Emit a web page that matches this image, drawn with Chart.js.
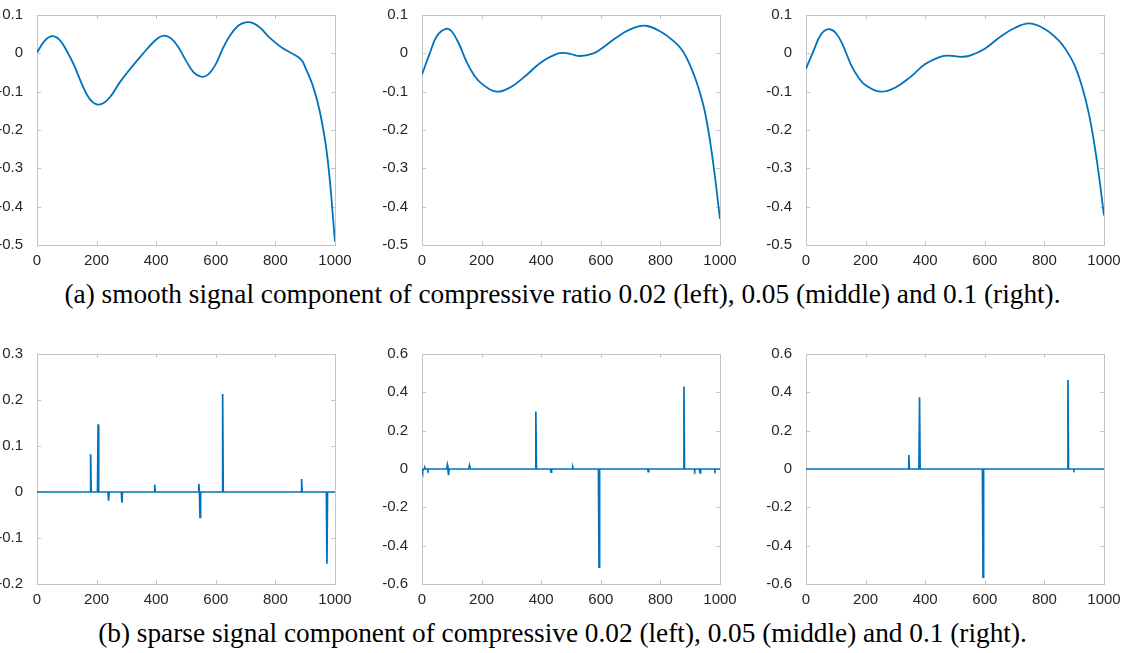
<!DOCTYPE html>
<html>
<head>
<meta charset="utf-8">
<script src="https://cdn.jsdelivr.net/npm/chart.js@4.4.0/dist/chart.umd.min.js"></script>
<style>
  body { margin: 0; background: #fff; width: 1125px; height: 653px; overflow: hidden; position: relative; }
  canvas { position: absolute; }
  .caption {
    position: absolute; left: 0; width: 1125px; text-align: center;
    font-family: "Liberation Serif", "Times New Roman", serif;
    font-size: 27.3px; line-height: 30px; color: #000; white-space: nowrap;
  }
</style>
</head>
<body>
<canvas id="smooth1" width="360" height="270" style="left:0px;top:0px"></canvas>
<canvas id="smooth2" width="365" height="270" style="left:380px;top:0px"></canvas>
<canvas id="smooth3" width="365" height="270" style="left:760px;top:0px"></canvas>
<div class="caption" style="top:279px">(a) smooth signal component of compressive ratio 0.02 (left), 0.05 (middle) and 0.1 (right).</div>
<canvas id="sparse1" width="360" height="270" style="left:0px;top:339px"></canvas>
<canvas id="sparse2" width="365" height="270" style="left:380px;top:339px"></canvas>
<canvas id="sparse3" width="365" height="270" style="left:760px;top:339px"></canvas>
<div class="caption" style="top:618px">(b) sparse signal component of compressive 0.02 (left), 0.05 (middle) and 0.1 (right).</div>

<script>
// Smooth components (sampled off the figure)
const smooth1X = [0, 25, 50, 75, 100, 125, 150, 175, 200, 225, 250, 275, 300, 350, 400, 425, 450, 475, 500, 525, 550, 575, 600, 625, 650, 675, 700, 725, 750, 775, 800, 825, 850, 875, 890, 900, 925, 950, 975, 1000];
const smooth1Y = [0.002, 0.032, 0.045, 0.036, 0.006, -0.032, -0.079, -0.117, -0.133, -0.129, -0.109, -0.079, -0.053, -0.006, 0.036, 0.046, 0.039, 0.015, -0.019, -0.049, -0.061, -0.055, -0.028, 0.015, 0.049, 0.072, 0.081, 0.079, 0.066, 0.045, 0.028, 0.013, 0.002, -0.009, -0.020, -0.036, -0.083, -0.155, -0.274, -0.491];

const smooth2X = [0, 25, 50, 80, 100, 125, 150, 175, 200, 250, 300, 350, 400, 450, 475, 500, 530, 575, 600, 650, 700, 750, 800, 850, 875, 900, 925, 950, 975, 1000];
const smooth2Y = [-0.055, -0.002, 0.045, 0.064, 0.057, 0.023, -0.023, -0.057, -0.079, -0.100, -0.087, -0.057, -0.023, -0.002, 0.001, -0.002, -0.007, 0.000, 0.011, 0.040, 0.063, 0.072, 0.057, 0.028, 0.006, -0.032, -0.083, -0.155, -0.274, -0.432];

const smooth3X = [0, 25, 50, 75, 100, 125, 150, 175, 200, 250, 300, 350, 400, 450, 480, 520, 550, 600, 650, 700, 750, 800, 850, 875, 900, 925, 950, 975, 1000];
const smooth3Y = [-0.040, 0.006, 0.049, 0.063, 0.053, 0.019, -0.028, -0.062, -0.083, -0.100, -0.089, -0.062, -0.028, -0.009, -0.006, -0.009, -0.006, 0.012, 0.042, 0.066, 0.078, 0.064, 0.032, 0.006, -0.029, -0.083, -0.160, -0.274, -0.423];

// Sparse components: spike positions and heights
const sparse1Pos = [180, 205, 240, 285, 395, 543, 547, 623, 888, 973];
const sparse1Val = [0.082, 0.147, -0.019, -0.023, 0.016, 0.018, -0.055, 0.213, 0.028, -0.156];

const sparse2Pos = [3, 10, 20, 85, 89, 159, 382, 433, 506, 594, 759, 879, 915, 933, 983];
const sparse2Val = [-0.012, 0.006, -0.006, 0.02, -0.032, 0.017, 0.30, -0.017, 0.01, -0.512, -0.014, 0.43, -0.008, -0.02, -0.007];

const sparse3Pos = [345, 381, 594, 879, 899];
const sparse3Val = [0.073, 0.374, -0.564, 0.464, -0.005];

// Axis ranges
const xTicks = {min: 0, max: 1000, step: 200};
const smoothRange = {min: -0.5, max: 0.1, step: 0.1};
const sparse1Range = {min: -0.2, max: 0.3, step: 0.1};
const sparse23Range = {min: -0.6, max: 0.6, step: 0.2};

const LINE = '#0072BD';
const BOX = '#c4c4c4';
const TEXT = '#262626';

function toPoints(xs, ys) {
  return xs.map((x, i) => ({x: x, y: ys[i]}));
}

function spikeSeries(pos, val) {
  const pts = [{x: 0, y: 0}];
  pos.forEach((p, i) => {
    pts.push({x: p - 2, y: 0}, {x: p, y: val[i]}, {x: p + 2, y: 0});
  });
  pts.push({x: 1000, y: 0});
  return pts;
}

// MATLAB-style box with inward ticks on every side
const boxTicks = {
  id: 'boxTicks',
  beforeDatasetsDraw(chart) {
    const {ctx, chartArea: a, scales: {x, y}} = chart;
    const len = 4;
    ctx.save();
    ctx.strokeStyle = BOX;
    ctx.lineWidth = 1;
    ctx.beginPath();
    x.ticks.forEach(t => {
      const px = Math.round(x.getPixelForValue(t.value)) + 0.5;
      ctx.moveTo(px, a.bottom); ctx.lineTo(px, a.bottom - len);
      ctx.moveTo(px, a.top); ctx.lineTo(px, a.top + len);
    });
    y.ticks.forEach(t => {
      const py = Math.round(y.getPixelForValue(t.value)) + 0.5;
      ctx.moveTo(a.left, py); ctx.lineTo(a.left + len, py);
      ctx.moveTo(a.right, py); ctx.lineTo(a.right - len, py);
    });
    ctx.stroke();
    ctx.strokeRect(Math.round(a.left) + 0.5, Math.round(a.top) + 0.5, Math.round(a.width), Math.round(a.height));
    ctx.restore();
  }
};

function createPanel(id, points, range, yWidth, padRight, smooth) {
  const ctx = document.getElementById(id).getContext('2d');
  return new Chart(ctx, {
    type: 'line',
    data: {
      datasets: [{
        data: points,
        borderColor: LINE,
        borderWidth: smooth ? 1.8 : 1.7,
        pointRadius: 0,
        fill: false,
        tension: smooth ? 0.4 : 0
      }]
    },
    options: {
      responsive: false,
      animation: false,
      devicePixelRatio: 1,
      layout: {padding: {top: 10, right: padRight, bottom: 0, left: 0}},
      plugins: {legend: {display: false}, tooltip: {enabled: false}},
      scales: {
        x: {
          type: 'linear',
          min: xTicks.min, max: xTicks.max,
          grid: {display: false},
          border: {display: false},
          ticks: {
            stepSize: xTicks.step, maxRotation: 0, autoSkip: false, padding: -1,
            color: TEXT, font: {family: 'Liberation Sans', size: 15},
            callback: v => String(v)
          },
          afterFit: s => { s.height = 25; }
        },
        y: {
          min: range.min, max: range.max,
          grid: {display: false},
          border: {display: false},
          ticks: {
            stepSize: range.step, autoSkip: false, padding: 6,
            color: TEXT, font: {family: 'Liberation Sans', size: 15},
            callback: v => Math.abs(v) < 1e-9 ? '0' : parseFloat(v.toFixed(1)).toString()
          },
          afterFit: s => { s.width = yWidth; }
        }
      }
    },
    plugins: [boxTicks]
  });
}

document.addEventListener('DOMContentLoaded', function() {
  if (typeof Chart === 'undefined') {
    console.error('Chart.js is not loaded');
    return;
  }
  createPanel('smooth1', toPoints(smooth1X, smooth1Y), smoothRange, 37, 25, true);
  createPanel('smooth2', toPoints(smooth2X, smooth2Y), smoothRange, 42, 25, true);
  createPanel('smooth3', toPoints(smooth3X, smooth3Y), smoothRange, 46, 21, true);
  createPanel('sparse1', spikeSeries(sparse1Pos, sparse1Val), sparse1Range, 37, 25, false);
  createPanel('sparse2', spikeSeries(sparse2Pos, sparse2Val), sparse23Range, 42, 25, false);
  createPanel('sparse3', spikeSeries(sparse3Pos, sparse3Val), sparse23Range, 46, 21, false);
});
</script>
</body>
</html>
